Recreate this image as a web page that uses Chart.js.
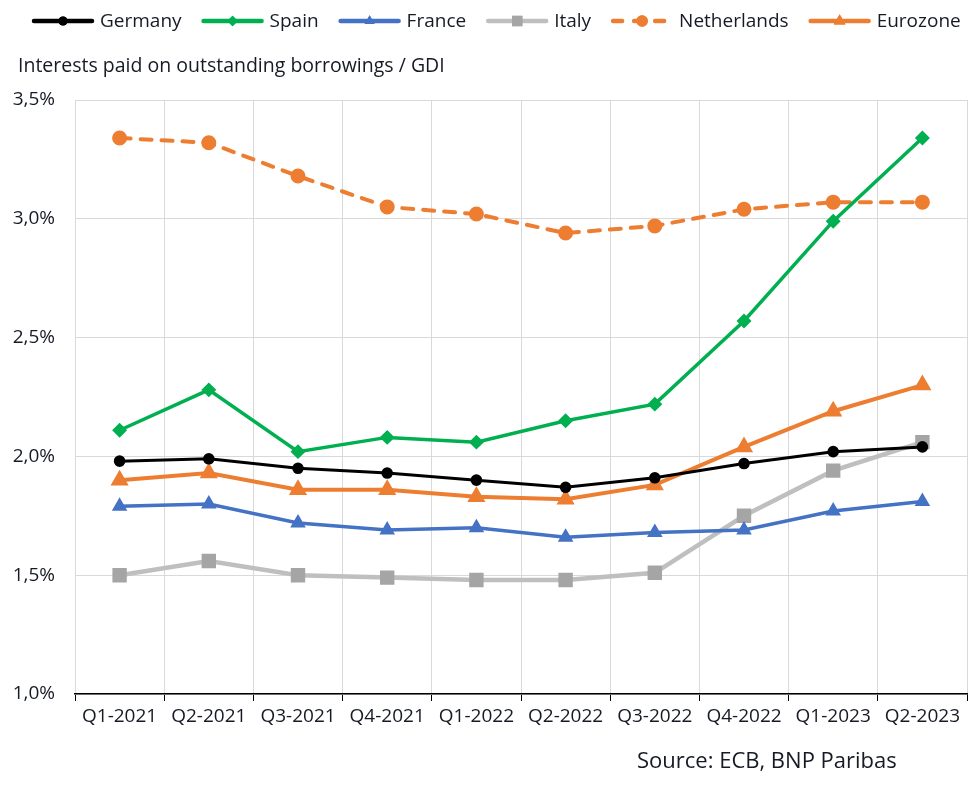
<!DOCTYPE html>
<html>
<head>
<meta charset="utf-8">
<script src="https://cdn.jsdelivr.net/npm/chart.js@4.4.1/dist/chart.umd.min.js"></script>
<style>
  html, body { margin: 0; padding: 0; background: #fff; }
  #wrap { width: 979px; height: 790px; }
</style>
</head>
<body>
<div id="wrap"><canvas id="myChart"></canvas></div>
<script>
"use strict";

// categories and series
const quarters = ['Q1-2021', 'Q2-2021', 'Q3-2021', 'Q4-2021', 'Q1-2022',
                  'Q2-2022', 'Q3-2022', 'Q4-2022', 'Q1-2023', 'Q2-2023'];

const germany     = [1.98, 1.99, 1.95, 1.93, 1.90, 1.87, 1.91, 1.97, 2.02, 2.04];
const spain       = [2.11, 2.28, 2.02, 2.08, 2.06, 2.15, 2.22, 2.57, 2.99, 3.34];
const france      = [1.79, 1.80, 1.72, 1.69, 1.70, 1.66, 1.68, 1.69, 1.77, 1.81];
const italy       = [1.50, 1.56, 1.50, 1.49, 1.48, 1.48, 1.51, 1.75, 1.94, 2.06];
const netherlands = [3.34, 3.32, 3.18, 3.05, 3.02, 2.94, 2.97, 3.04, 3.07, 3.07];
const eurozone    = [1.90, 1.93, 1.86, 1.86, 1.83, 1.82, 1.88, 2.04, 2.19, 2.30];

const yTicks = [1.0, 1.5, 2.0, 2.5, 3.0, 3.5];

const FONT = "'Open Sans', sans-serif";
const TXT = '#161a24';
const ORANGE = '#ed7d31';

const data = {
    labels: quarters,
    datasets: [{
        label: 'Germany',
        data: germany,
        borderColor: '#000000',
        backgroundColor: '#000000',
        borderWidth: 3,
        pointStyle: 'circle',
        pointRadius: 4.3
    }, {
        label: 'Spain',
        data: spain,
        borderColor: '#00b050',
        backgroundColor: '#00b050',
        borderWidth: 3.5,
        pointStyle: 'rectRot',
        pointRadius: 5
    }, {
        label: 'France',
        data: france,
        borderColor: '#4472c4',
        backgroundColor: '#4472c4',
        borderWidth: 3.5,
        pointStyle: 'triangle',
        pointRadius: 5.5
    }, {
        label: 'Italy',
        data: italy,
        borderColor: '#bfbfbf',
        backgroundColor: '#a5a5a5',
        pointBorderColor: '#a5a5a5',
        borderWidth: 4.5,
        pointStyle: 'rect',
        pointRadius: 7
    }, {
        label: 'Netherlands',
        data: netherlands,
        borderColor: ORANGE,
        backgroundColor: ORANGE,
        borderWidth: 4,
        borderDash: [11, 10],
        borderCapStyle: 'round',
        pointStyle: 'circle',
        pointRadius: 5.5
    }, {
        label: 'Eurozone',
        data: eurozone,
        borderColor: ORANGE,
        backgroundColor: ORANGE,
        borderWidth: 4,
        pointStyle: 'triangle',
        pointRadius: 6.5
    }]
};

// legend with a line + marker sample, plus the axis title and source line
const decorations = {
    id: 'decorations',
    afterDraw(chart) {
        const ctx = chart.ctx;
        ctx.save();
        ctx.font = '19px ' + FONT;
        ctx.textBaseline = 'middle';
        let x = 32;
        const y = 21;
        chart.data.datasets.forEach((ds) => {
            const len = 62;
            ctx.beginPath();
            ctx.lineWidth = 4.5;
            ctx.lineCap = 'round';
            ctx.strokeStyle = ds.borderColor;
            ctx.setLineDash(ds.borderDash ? [9, 12] : []);
            ctx.moveTo(x + 2, y);
            ctx.lineTo(x + len - 2, y);
            ctx.stroke();
            ctx.setLineDash([]);
            ctx.fillStyle = ds.backgroundColor;
            Chart.helpers.drawPoint(ctx, {
                pointStyle: ds.pointStyle,
                radius: ds.pointRadius * 1.05,
                rotation: 0,
                borderWidth: 0
            }, x + len / 2, y);
            ctx.fill();
            ctx.fillStyle = TXT;
            ctx.fillText(ds.label, x + len + 6, y + 1);
            x += len + 6 + ctx.measureText(ds.label).width + 20;
        });

        ctx.font = '19.5px ' + FONT;
        ctx.fillStyle = TXT;
        ctx.textAlign = 'left';
        ctx.fillText('Interests paid on outstanding borrowings / GDI', 18, 66);

        ctx.font = '22px ' + FONT;
        ctx.fillText('Source: ECB, BNP Paribas', 637, 762);
        ctx.restore();
    }
};

const config = {
    type: 'line',
    data,
    options: {
        responsive: true,
        maintainAspectRatio: false,
        animation: false,
        layout: {
            padding: { top: 100, right: 12, left: 0, bottom: 0 }
        },
        elements: {
            line: { tension: 0 },
            point: { borderWidth: 0, hoverRadius: 6 }
        },
        scales: {
            x: {
                offset: true,
                grid: {
                    offset: true,
                    color: '#d9d9d9',
                    lineWidth: 1,
                    tickColor: '#000000',
                    tickLength: 7,
                    drawOnChartArea: true
                },
                border: { color: '#000000', width: 1.5 },
                ticks: {
                    color: TXT,
                    font: { family: FONT, size: 19 },
                    padding: 4,
                    maxRotation: 0,
                    autoSkip: false
                },
                afterFit(scale) { scale.height = 96; }
            },
            y: {
                min: yTicks[0],
                max: yTicks[yTicks.length - 1],
                afterBuildTicks(scale) {
                    scale.ticks = yTicks.map(v => ({ value: v }));
                },
                grid: {
                    color: '#d9d9d9',
                    lineWidth: 1,
                    drawTicks: false
                },
                border: { display: false },
                ticks: {
                    color: TXT,
                    font: { family: FONT, size: 19 },
                    padding: 20,
                    callback: v => v.toFixed(1).replace('.', ',') + '%'
                },
                afterFit(scale) { scale.width = 75; }
            }
        },
        plugins: {
            legend: { display: false },
            tooltip: { enabled: false }
        }
    },
    plugins: [decorations]
};

const myChart = new Chart(document.getElementById('myChart'), config);
</script>
</body>
</html>
